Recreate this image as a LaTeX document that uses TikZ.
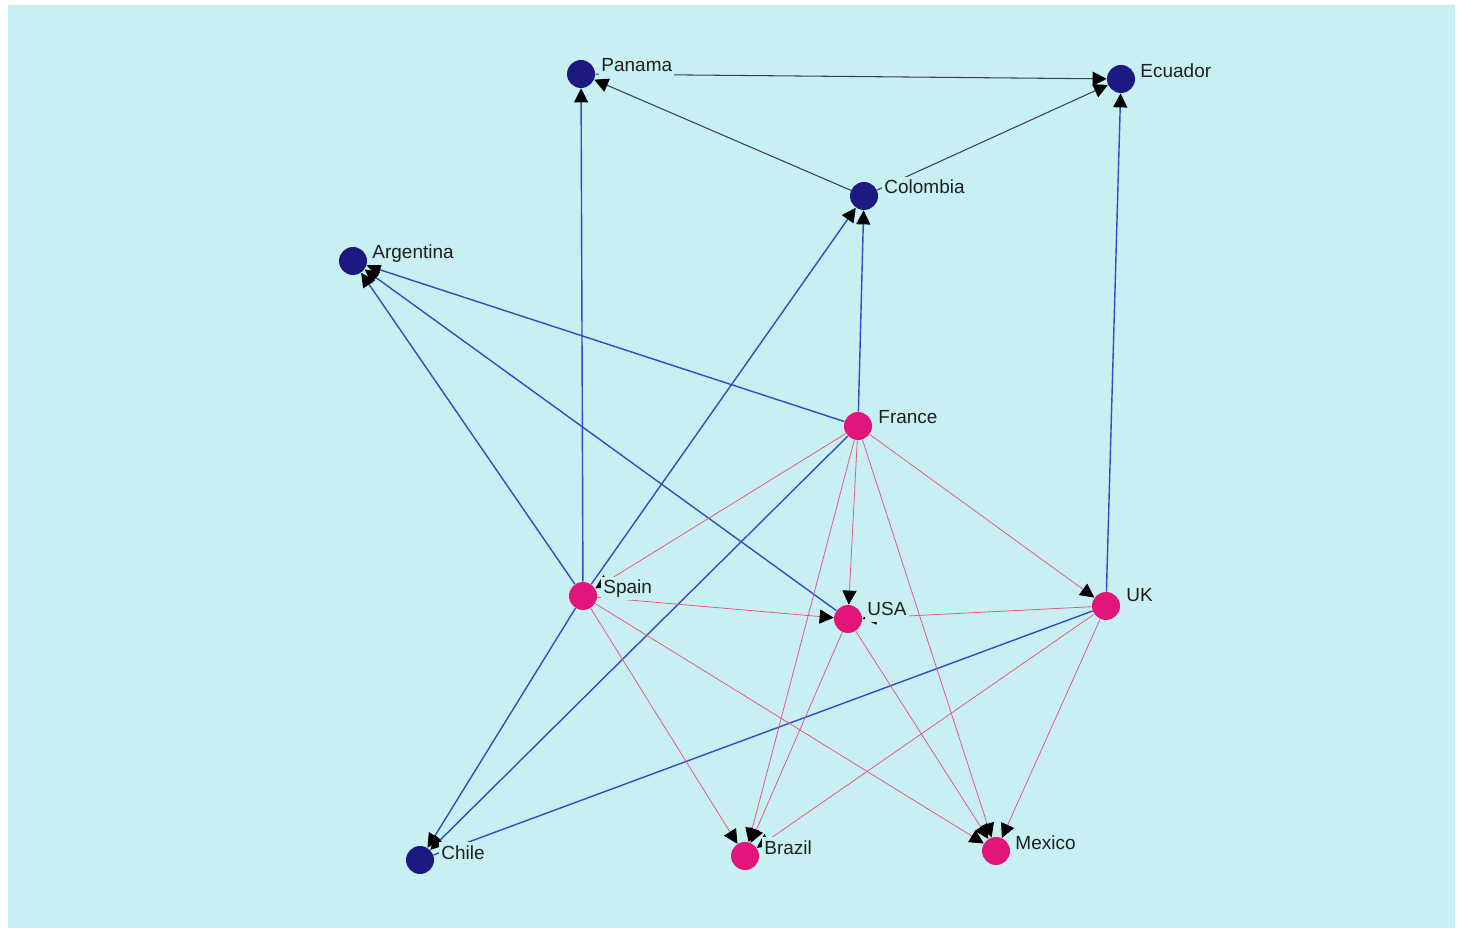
\documentclass[tikz,border=0pt]{standalone}
\usepackage{fontspec}
\setmainfont{Liberation Sans}
\usetikzlibrary{arrows.meta,backgrounds}
\definecolor{sheet}{RGB}{200,240,242}
\definecolor{navynode}{RGB}{28,26,128}
\definecolor{pinknode}{RGB}{226,22,122}
\definecolor{edgeblue}{RGB}{48,78,196}
\definecolor{edgered}{RGB}{232,86,136}
\definecolor{edgegrey}{RGB}{60,62,84}
\definecolor{tagtext}{RGB}{30,30,36}
\pgfdeclarelayer{edges}
\pgfsetlayers{background,edges,main}

\begin{document}
\begin{tikzpicture}[x=0.02cm,y=-0.02cm]
        %
        % `latin' and `core' are the two kinds of countries.
        % `tag' is used for the country names, `tie' for the links.
        \tikzstyle{actor} = [circle,minimum size=0.56cm,inner sep=0pt]
        \tikzstyle{latin} = [actor,fill=navynode]
        \tikzstyle{core} = [actor,fill=pinknode]
        \tikzstyle{tag} = [anchor=base west,fill=sheet,inner sep=1.2pt,text height=8.5pt,text depth=2.5pt,text=tagtext,font=\fontsize{10.8}{12}\selectfont]
        \tikzstyle{tie} = [-{Triangle[length=8pt,width=8pt,color=black]}]
        \tikzstyle{blueline} = [tie,draw=edgeblue,line width=0.8pt]
        \tikzstyle{redline} = [tie,draw=edgered,line width=0.45pt]
        \tikzstyle{greyline} = [tie,draw=edgegrey,line width=0.6pt]
        %
        % Latin American countries
        \node[latin] (panama) at (581,74) {};
        \node[latin] (ecuador) at (1121,79) {};
        \node[latin] (colombia) at (864,196) {};
        \node[latin] (argentina) at (353,261) {};
        \node[latin] (chile) at (420,860) {};
        %
        % Other countries
        \node[core] (france) at (858,426) {};
        \node[core] (spain) at (583,596) {};
        \node[core] (usa) at (848,619) {};
        \node[core] (uk) at (1106,606) {};
        \node[core] (brazil) at (745,856) {};
        \node[core] (mexico) at (996,851) {};
        %
        % Names
        \node[tag] (panama-t) at (599,72) {Panama};
        \node[tag] (ecuador-t) at (1138,78) {Ecuador};
        \node[tag] (colombia-t) at (882,194) {Colombia};
        \node[tag] (argentina-t) at (370,259) {Argentina};
        \node[tag] (france-t) at (876,424) {France};
        \node[tag] (spain-t) at (601,594) {Spain};
        \node[tag] (usa-t) at (865,616) {USA};
        \node[tag] (uk-t) at (1124,602) {UK};
        \node[tag] (chile-t) at (439,859) {Chile};
        \node[tag] (brazil-t) at (762,854) {Brazil};
        \node[tag] (mexico-t) at (1013,849) {Mexico};
        %
        % Links (under the nodes and names)
        \begin{pgfonlayer}{edges}
        \draw[greyline] (colombia) -- (panama);
        \draw[greyline] (panama) -- (ecuador);
        \draw[greyline] (colombia) -- (ecuador);
        %
        \draw[blueline] (spain) -- (panama);
        \draw[blueline] (spain) -- (colombia);
        \draw[blueline] (france) -- (colombia);
        \draw[blueline] (uk) -- (ecuador);
        \draw[blueline] (spain) -- (argentina);
        \draw[blueline] (usa) -- (argentina);
        \draw[blueline] (france) -- (argentina);
        \draw[blueline] (spain) -- (chile);
        \draw[blueline] (france) -- (chile);
        \draw[blueline,-] (uk) -- (chile);
        %
        \draw[redline] (spain) -- (usa);
        \draw[redline] (france) -- (usa);
        \draw[redline] (uk) -- (usa);
        \draw[redline] (france) -- (spain);
        \draw[redline] (france) -- (uk);
        \draw[redline] (france) -- (brazil);
        \draw[redline] (france) -- (mexico);
        \draw[redline] (spain) -- (brazil);
        \draw[redline] (spain) -- (mexico);
        \draw[redline] (usa) -- (brazil);
        \draw[redline] (usa) -- (mexico);
        \draw[redline] (uk) -- (brazil);
        \draw[redline] (uk) -- (mexico);
        \end{pgfonlayer}
        %
        % Background sheet
        \begin{pgfonlayer}{background}
        \fill[white] (0,0) rectangle (1457,928);
        \fill[sheet] (8,5) rectangle (1455,928);
        \end{pgfonlayer}
        %
\end{tikzpicture}
\end{document}
